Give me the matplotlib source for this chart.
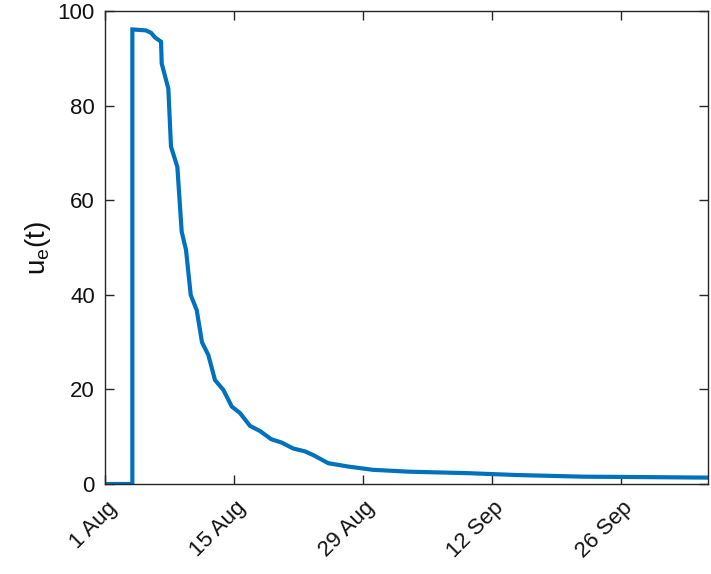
import matplotlib
matplotlib.use("Agg")
import matplotlib.pyplot as plt
import matplotlib.transforms as mtransforms
from datetime import datetime, timedelta

plt.rcParams['font.family'] = ['Liberation Sans', 'DejaVu Sans']
plt.rcParams['mathtext.default'] = 'regular'

start = datetime(2020, 8, 1)
# days since 1 Aug and u_e(t) values
days = [0, 3.02, 3.02, 4.47, 5.04, 5.48, 6.13, 6.2, 6.92, 7.21, 7.9, 8.37, 8.84,
        9.35, 10.0, 10.57, 11.26, 11.98, 12.89, 13.8, 14.7, 15.78, 16.87, 18.06,
        19.22, 20.48, 21.75, 22.65, 24.27, 26.4, 29.1, 33.1, 39.3, 44.7, 51.9,
        59.2, 65.45]
values = [0, 0, 96.2, 96.0, 95.5, 94.5, 93.6, 89.0, 83.7, 71.4, 67.1, 53.4, 49.5,
          40.0, 36.8, 30.0, 27.3, 22.0, 19.9, 16.4, 15.0, 12.3, 11.2, 9.5,
          8.75, 7.5, 6.9, 6.1, 4.4, 3.7, 3.0, 2.6, 2.3, 1.9, 1.55,
          1.45, 1.35]
tick_days = [0, 14, 28, 42, 56]
tick_labels = ['1 Aug', '15 Aug', '29 Aug', '12 Sep', '26 Sep']
y_ticks = [0, 20, 40, 60, 80, 100]

x = [start + timedelta(days=d) for d in days]

fig = plt.figure(figsize=(7.11, 5.74), dpi=100)
ax = fig.add_axes([0.147, 0.1568, 0.8488, 0.8232])
ax.plot(x, values, color='#0072BD', lw=3.0, solid_joinstyle='miter')

ax.set_xlim(start, start + timedelta(days=65.45))
ax.set_ylim(0, 100)
ax.set_xticks([start + timedelta(days=d) for d in tick_days])
ax.set_xticklabels(tick_labels, rotation=45, ha='right', va='top',
                   rotation_mode='anchor', fontsize=16.5)
ax.set_yticks(y_ticks)

c = '#262626'
for s in ax.spines.values():
    s.set_color(c)
    s.set_linewidth(1.0)
ax.tick_params(direction='in', length=6.5, width=1.0, color=c, labelcolor='#111111',
               labelsize=16, top=True, right=True)
ax.tick_params(axis='y', pad=7)
ax.tick_params(axis='x', pad=5)

offset = mtransforms.ScaledTranslation(0.015, -0.065, fig.dpi_scale_trans)
for lbl in ax.get_xticklabels():
    lbl.set_transform(lbl.get_transform() + offset)

ax.set_ylabel('$u_e(t)$', fontsize=20, color='#111111', labelpad=3)

fig.savefig('out.png', dpi=100)
